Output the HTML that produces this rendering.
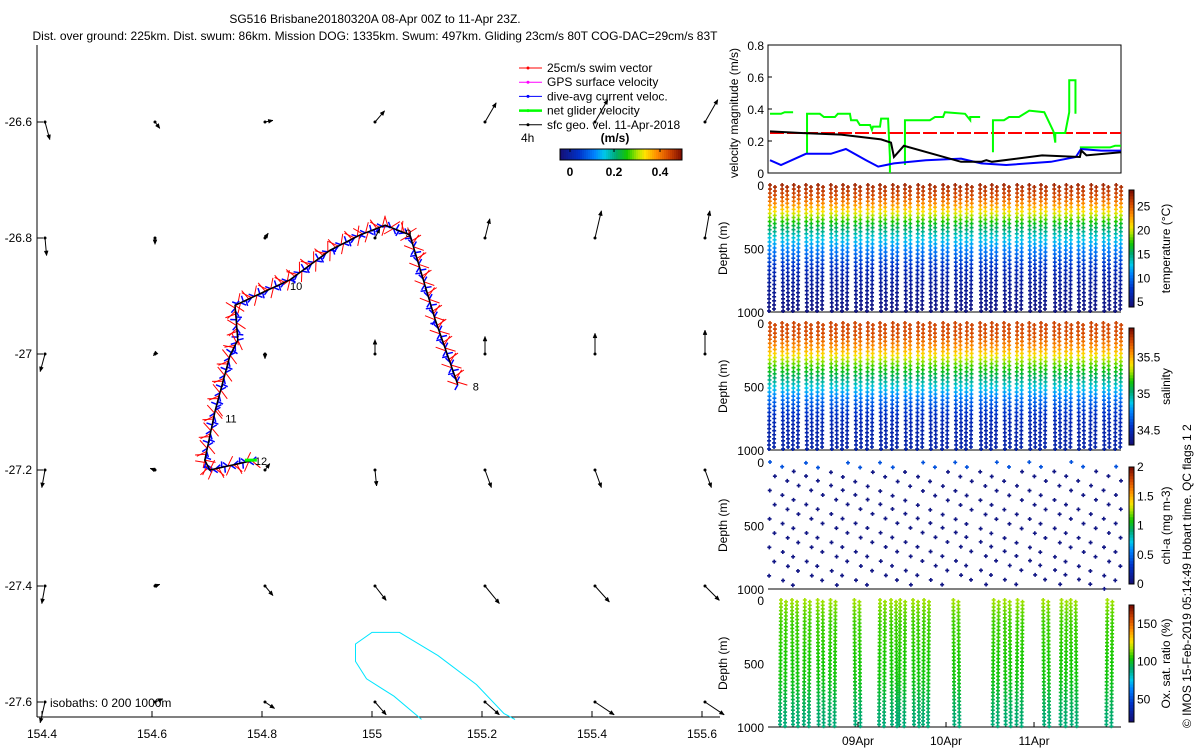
<!DOCTYPE html>
<html><head><meta charset="utf-8"><style>
html,body{margin:0;padding:0;background:#fff;}
svg{display:block;font-family:"Liberation Sans",sans-serif;}
</style></head><body>
<svg id="fig" width="1200" height="750" viewBox="0 0 1200 750" xmlns="http://www.w3.org/2000/svg">
<text x="375" y="23" font-size="12" text-anchor="middle">SG516 Brisbane20180320A 08-Apr 00Z to 11-Apr 23Z.</text>
<text x="375" y="40" font-size="12" text-anchor="middle">Dist. over ground: 225km. Dist. swum: 86km. Mission DOG: 1335km. Swum: 497km. Gliding 23cm/s 80T COG-DAC=29cm/s 83T</text>
<g id="map"></g>
<g id="vel"></g>
<g id="prof"></g>
<text transform="translate(1191,728) rotate(-90)" font-size="12">© IMOS 15-Feb-2019 05:14:49 Hobart time. QC flags 1  2</text>
</svg>
<script>
// ---------- data ----------
const mapLonTicks=[154.4,154.6,154.8,155,155.2,155.4,155.6];
const mapLatTicks=[-26.6,-26.8,-27,-27.2,-27.4,-27.6];
const trackLon=[155.156,155.115,155.069,155.024,154.978,154.924,154.851,154.751,154.756,154.742,154.715,154.696,154.705,154.787];
const trackLat=[-27.053,-26.941,-26.795,-26.778,-26.795,-26.821,-26.872,-26.916,-26.976,-27.002,-27.097,-27.183,-27.2,-27.183];
const trackLabels=[["8",0,15,6],["9",3,20,12],["10",6,0,10],["11",10,10,12],["12",13,0,5]];
// geostrophic velocity (m/s) at grid rows (lat) x cols (lon)
const geoU=[[0.03,0.03,0.05,0.06,0.07,0.08,0.08],[0.01,0,0.02,0.03,0.03,0.04,0.03],[-0.03,-0.01,0,0,0,0,0],[-0.02,-0.03,0.03,0.01,0.04,0.04,0.04],[-0.02,0.03,0.05,0.07,0.09,0.09,0.09],[-0.03,0.05,0.06,0.07,0.09,0.12,0.12]];
const geoV=[[-0.11,-0.04,0.01,0.07,0.12,0.14,0.14],[-0.11,-0.04,0.03,0.06,0.12,0.17,0.17],[-0.11,-0.01,-0.03,0.09,0.11,0.13,0.15],[-0.11,0.01,0.04,-0.1,-0.11,-0.11,-0.11],[-0.11,0.01,-0.06,-0.09,-0.11,-0.1,-0.09],[-0.13,0.02,-0.04,-0.08,-0.08,-0.08,-0.08]];
const isoLon=[155.09,155.04,154.99,154.97,154.97,155.0,155.05,155.12,155.19,155.24,155.26];
const isoLat=[-27.63,-27.59,-27.56,-27.53,-27.50,-27.48,-27.48,-27.52,-27.57,-27.62,-27.63];
// velocity magnitude panel (hours since 08-Apr 00Z)
const netH=[0,3,4,6.3,null,10.1,10.1,13.6,14.7,17.7,18.5,21.8,22.1,23.7,24.5,27.3,27.8,28.1,30,30.3,32.2,32.7,32.7,null,36.8,36.8,43.6,45,47.2,47.7,53.2,54.6,54.6,57.3,null,60.8,60.8,63.8,65.2,67.9,70.7,74.8,77.3,77.8,77.8,80.5,81.6,81.6,83.3,83.3,null,84.5,92.7,94.1,95.7];
const netV=[0.37,0.37,0.38,0.38,null,0.12,0.37,0.37,0.35,0.35,0.37,0.37,0.33,0.33,0.30,0.30,0.27,0.29,0.29,0.34,0.34,0.1,0,null,0.05,0.33,0.33,0.35,0.35,0.38,0.37,0.33,0.35,0.35,null,0.13,0.33,0.33,0.35,0.35,0.39,0.38,0.26,0.19,0.25,0.25,0.38,0.58,0.58,0.37,null,0.16,0.16,0.17,0.17];
const geoH=[0,8.5,19.4,30.3,33,33.8,36.5,52.1,57.6,59,60.5,74.2,84.5,84.9,86.3,95.7];
const geoVel=[0.26,0.25,0.24,0.21,0.19,0.1,0.17,0.07,0.07,0.08,0.07,0.11,0.10,0.14,0.11,0.13];
const dacH=[0,3,9.8,16.6,20.7,26.2,29.5,33.8,42.5,52.1,57.6,64.4,76.6,83.4,84.8,90.3,95.7];
const dacV=[0.08,0.05,0.12,0.12,0.15,0.08,0.04,0.06,0.08,0.09,0.06,0.05,0.07,0.10,0.15,0.14,0.14];
const swimSpeed=0.25;
const velTicks=[0,0.2,0.4,0.6,0.8];
// profiles
const diveH=[0,3.3,6.5,9.8,13.1,16.6,19.9,23.2,26.7,30,33.5,36.8,40.4,43.6,47.2,50.5,53.7,57.3,60.5,63.8,67.4,70.7,73.9,77.5,80.8,84,87.6,90.9,94.4];
const profDepth=[0,100,200,300,400,500,600,700,800,900,1000];
const tempProf=[27.5,25.5,21.5,17,13.5,11,8.5,6.5,5.5,5,4.5];
const salProf=[35.75,35.72,35.55,35.3,35.1,34.9,34.7,34.55,34.47,34.45,34.45];
const oxyH=[3,6,9.5,13,16.5,23,30,33,35.5,39,42,50,61,64,67.5,74.5,79.5,82,92];
const oxyProf=[118,112,108,108,106,105,104,100,95,92,90];
const dayTicks=[["09Apr",24],["10Apr",48],["11Apr",72]];
</script>
<script>
const NS="http://www.w3.org/2000/svg";
function mk(p,tag,a){const e=document.createElementNS(NS,tag);for(const k in a)e.setAttribute(k,a[k]);p.appendChild(e);return e;}
const CM=[[0,[20,16,120]],[0.15,[0,50,200]],[0.28,[0,130,255]],[0.36,[0,200,235]],[0.46,[0,170,110]],[0.55,[20,200,0]],[0.64,[180,230,0]],[0.7,[255,225,0]],[0.8,[255,140,0]],[0.9,[210,70,0]],[1,[128,16,0]]];
function jet(t){t=Math.max(0,Math.min(1,t));for(let i=0;i<CM.length-1;i++){if(t<=CM[i+1][0]){const f=(t-CM[i][0])/(CM[i+1][0]-CM[i][0]);const c=CM[i][1].map((v,k)=>Math.round(v+(CM[i+1][1][k]-v)*f));return `rgb(${c})`;}}return 'rgb(128,16,0)';}
function interp(xs,ys,x){for(let i=0;i<xs.length-1;i++){if(x<=xs[i+1])return ys[i]+(ys[i+1]-ys[i])*(x-xs[i])/(xs[i+1]-xs[i]);}return ys[ys.length-1];}
function arrow(g,x1,y1,x2,y2,col,w,name){const l=mk(g,'line',{x1,y1,x2,y2,stroke:col,'stroke-width':w});


const a=Math.atan2(y2-y1,x2-x1),h=5;mk(g,'path',{d:`M${x2},${y2}L${x2-h*Math.cos(a-0.4)},${y2-h*Math.sin(a-0.4)}L${x2-h*Math.cos(a+0.4)},${y2-h*Math.sin(a+0.4)}Z`,fill:col,stroke:col,'stroke-width':0.5});}
// ---------- map ----------
const M=document.getElementById('map');
const lx=lon=>42+(lon-154.4)*550, ly=lat=>122+(-26.6-lat)*580;
mk(M,'line',{x1:37,y1:45,x2:37,y2:717,stroke:'#000'});
mk(M,'line',{x1:37,y1:717,x2:720,y2:717,stroke:'#000'});
mapLonTicks.forEach(v=>{const x=lx(v);mk(M,'line',{x1:x,y1:717,x2:x,y2:711,stroke:'#000'});const t=mk(M,'text',{x:x,y:738,'font-size':12,'text-anchor':'middle'});t.textContent=String(v);

});
mapLatTicks.forEach(v=>{const y=ly(v);mk(M,'line',{x1:37,y1:y,x2:43,y2:y,stroke:'#000'});const t=mk(M,'text',{x:32,y:y+4,'font-size':12,'text-anchor':'end'});t.textContent=String(v);

});
// isobath
mk(M,'path',{d:isoLon.map((v,i)=>(i?'L':'M')+lx(v)+','+ly(isoLat[i])).join(''),fill:'none',stroke:'#00e5ff','stroke-width':1});
// geo arrows
mapLatTicks.forEach((la,r)=>mapLonTicks.forEach((lo,c)=>{const x=lx(lo)+3,y=ly(la);const s=160;
mk(M,'circle',{cx:x,cy:y,r:1.5,fill:'#000'});
arrow(M,x,y,x+geoU[r][c]*s,y-geoV[r][c]*s,'#000',1,'geo-velocity-arrow');}));
// track
const tx=trackLon.map(lx),ty=trackLat.map(ly);
for(let i=0;i<tx.length-1;i++){const n=Math.max(3,Math.round(Math.hypot(tx[i+1]-tx[i],ty[i+1]-ty[i])/3));
for(let k=0;k<n;k++){const f=k/n,x=tx[i]+(tx[i+1]-tx[i])*f,y=ty[i]+(ty[i+1]-ty[i])*f;const a=Math.atan2(ty[i+1]-ty[i],tx[i+1]-tx[i])+((k%3)-1)*0.9+(k%2?Math.PI*0.7:0);
mk(M,'line',{x1:x,y1:y,x2:x+11*Math.cos(a),y2:y+11*Math.sin(a),stroke:'#ff0000','stroke-width':1});
mk(M,'line',{x1:x,y1:y,x2:x+6*Math.cos(a-1.4),y2:y+6*Math.sin(a-1.4),stroke:'#0000ff','stroke-width':1.5});}}
const tp=mk(M,'path',{d:tx.map((x,i)=>(i?'L':'M')+x+','+ty[i]).join(''),fill:'none',stroke:'#000','stroke-width':1.5});

trackLabels.forEach(([s,i,dx,dy])=>{const t=mk(M,'text',{x:tx[i]+dx,y:ty[i]+dy,'font-size':11});t.textContent=s;});
mk(M,'path',{d:`M${tx[13]-10},${ty[13]}L${tx[13]+2},${ty[13]}`,stroke:'#00ff00','stroke-width':3});
// legend
const leg=[['25cm/s swim vector','#ff0000',1],['GPS surface velocity','#ff00ff',1],['dive-avg current veloc.','#0000ff',1],['net glider velocity','#00ff00',2.5],['sfc geo. vel. 11-Apr-2018','#000',1]];
leg.forEach((L,i)=>{const y=68+i*14.2;const g=mk(M,'g',{});


mk(g,'line',{x1:519,y1:y,x2:542,y2:y,stroke:L[1],'stroke-width':L[2]});mk(g,'circle',{cx:528,cy:y,r:1.5,fill:L[1]});
const t=mk(g,'text',{x:547,y:y+4,'font-size':12});t.textContent=L[0];});
let t=mk(M,'text',{x:521,y:142,'font-size':12});t.textContent='4h';
t=mk(M,'text',{x:615,y:142,'font-size':12,'font-weight':'bold','text-anchor':'middle'});t.textContent='(m/s)';
for(let i=0;i<61;i++)mk(M,'rect',{x:560+i*2,y:149,width:2.1,height:11,fill:jet(i/60)});
mk(M,'rect',{x:560,y:149,width:122,height:11,fill:'none',stroke:'#000'});
[[0,570],[0.2,614],[0.4,660]].forEach(([v,x])=>{mk(M,'line',{x1:x,y1:149,x2:x,y2:152,stroke:'#000'});const q=mk(M,'text',{x:x,y:176,'font-size':12,'font-weight':'bold','text-anchor':'middle'});q.textContent=String(v);});
t=mk(M,'text',{x:50,y:707,'font-size':12});t.textContent='isobaths: 0   200  1000m';
// ---------- velocity panel ----------
const V=document.getElementById('vel');
const hx=h=>770+h*3.667, vy=v=>173-v*160;
mk(V,'rect',{x:768,y:45,width:353,height:128,fill:'none',stroke:'#000'});
velTicks.forEach(v=>{const y=vy(v);mk(V,'line',{x1:768,y1:y,x2:772,y2:y,stroke:'#000'});const q=mk(V,'text',{x:764,y:y+5,'font-size':12,'text-anchor':'end'});q.textContent=String(v);});
t=mk(V,'text',{transform:'translate(738,178) rotate(-90)','font-size':12});t.textContent='velocity magnitude (m/s)';
function series(hs,vs,col,w,name,dash){let d='',pen=false;hs.forEach((h,i)=>{if(h===null){pen=false;return;}d+=(pen?'L':'M')+hx(h)+','+vy(vs[i]);pen=true;});
const p=mk(V,'path',{d,fill:'none',stroke:col,'stroke-width':w});if(dash)p.setAttribute('stroke-dasharray',dash);

}
series([0,95.7],[swimSpeed,swimSpeed],'#ff0000',2,'swim-speed-line','14 3');
series(netH,netV,'#00ff00',2,'net-glider-velocity-line');
series(dacH,dacV,'#0000ff',2,'dive-avg-current-line');
series(geoH,geoVel,'#000',2,'geo-velocity-line');
// ---------- profile panels ----------
const P=document.getElementById('prof');
const panels=[{y:185,name:'temperature',vals:tempProf,lo:4,hi:28.5,ticks:[5,10,15,20,25],label:'temperature (°C)',dives:diveH},
{y:323,name:'salinity',vals:salProf,lo:34.3,hi:35.9,ticks:[34.5,35,35.5],label:'salinity',dives:diveH},
{y:462,name:'chlorophyll',vals:null,lo:0,hi:2,ticks:[0,0.5,1,1.5,2],label:'chl-a (mg m-3)',dives:diveH},
{y:600,name:'oxygen',vals:oxyProf,lo:20,hi:175,ticks:[50,100,150],label:'Ox. sat. ratio (%)',dives:oxyH}];
function plus(g,x,y,c){mk(g,'path',{d:`M${x-2},${y-0.8}h4v1.6h-4zM${x-0.8},${y-2}h1.6v4h-1.6z`,fill:c});}
panels.forEach((pn,pi)=>{const g=mk(P,'g',{});


const H=127,dy=d=>pn.y+d/1000*H;
mk(g,'line',{x1:768,y1:pn.y+H,x2:1121,y2:pn.y+H,stroke:'#000'});
[0,500,1000].forEach(d=>{const q=mk(g,'text',{x:764,y:dy(d)+5,'font-size':12,'text-anchor':'end'});q.textContent=String(d);});
const q=mk(g,'text',{transform:`translate(727,${pn.y+90}) rotate(-90)`,'font-size':12});q.textContent='Depth (m)';
const step=pn.name==='oxygen'?14:16;
pn.dives.forEach((h,di)=>{const xc=hx(h)+2;for(let d=0;d<=1000;d+=step){
let v,dd=d;if(pn.vals===null){if((di*7+Math.round(d/step)*3)%7!==0)continue;dd=(d+di*37)%1000;v=dd<60?0.4:0.05;}else v=interp(profDepth,pn.vals,dd);
const k=Math.round(d/step);const off=(k%2?3:-2)+ (dd/1000)*(di%2?1:-1);plus(g,xc+off,dy(dd),jet((v-pn.lo)/(pn.hi-pn.lo)));}});
// colorbar
const cb=mk(g,'g',{});

const cy0=pn.y+5,ch=H-10;for(let i=0;i<40;i++)mk(cb,'rect',{x:1129,y:cy0+ch-(i+1)*ch/40,width:5,height:ch/40+0.5,fill:jet(i/39)});
mk(cb,'rect',{x:1129,y:cy0,width:5,height:ch,fill:'none',stroke:'#000'});
pn.ticks.forEach(v=>{const y=cy0+ch-(v-pn.lo)/(pn.hi-pn.lo)*ch;const r=mk(cb,'text',{x:1137,y:y+4,'font-size':12});r.textContent=String(v);});
const lb=mk(g,'text',{transform:`translate(1170,${pn.y+H/2}) rotate(-90)`,'font-size':12,'text-anchor':'middle'});lb.textContent=pn.label;});
dayTicks.forEach(([s,h])=>{const x=hx(h);mk(P,'line',{x1:x,y1:727,x2:x,y2:722,stroke:'#000'});const q=mk(P,'text',{x:x,y:745,'font-size':12,'text-anchor':'middle'});q.textContent=s;});
</script>
</body></html>
